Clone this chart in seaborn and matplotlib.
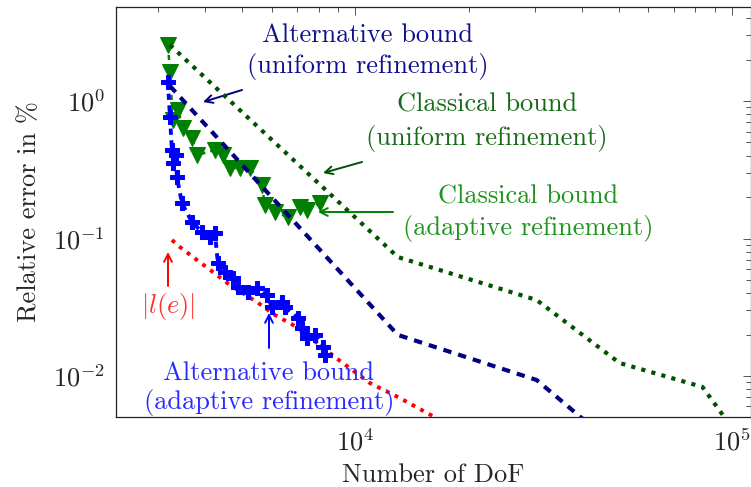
import numpy as np
import pandas as pd
import matplotlib
matplotlib.use("Agg")
import matplotlib.pyplot as plt
import seaborn as sns
from matplotlib.ticker import LogLocator, NullFormatter

# ---------------- data ----------------
dof_uniform = [3221, 12966, 30298, 50300, 83520, 107940]
classical_uniform = [2.555, 0.0733, 0.0357, 0.01243, 0.00832, 0.00315]
alternative_uniform = [1.286, 0.0199, 0.00935, 0.0029]

dof_adaptive_classical = [3182, 3221, 3280, 3382, 3486, 3683, 3798, 4239, 4451, 4646,
                          4938, 5251, 5649, 5754, 6116, 6622, 7124, 7437, 8050]
classical_adaptive = [2.555, 1.625, 0.727, 0.860, 0.636, 0.538, 0.4048, 0.440, 0.4048,
                      0.3257, 0.3257, 0.3257, 0.2449, 0.1752, 0.1559, 0.1433, 0.1695,
                      0.1612, 0.1812]

dof_adaptive_alt = [3182, 3221, 3260, 3280, 3341, 3361, 3465, 3683, 3915, 4112, 4239,
                    4318, 4506, 4732, 4878, 5187, 5480, 5826, 6005, 6383, 6501, 7038,
                    7212, 7437, 7809, 8200, 8301]
alternative_adaptive = [1.375, 0.765, 0.440, 0.354, 0.405, 0.280, 0.181, 0.132, 0.1115,
                        0.1025, 0.1096, 0.0663, 0.0571, 0.0516, 0.0444, 0.0408, 0.0437,
                        0.0388, 0.0318, 0.0345, 0.0318, 0.0264, 0.0223, 0.0189, 0.0199,
                        0.01625, 0.01421]

dof_error = [3260, 3423, 3798, 4188, 4646, 5480, 6116, 6995, 8822, 10927, 13124, 16753]
true_error = [0.0975, 0.0867, 0.0698, 0.0571, 0.0459, 0.0345, 0.0278, 0.0227, 0.01374,
              0.00889, 0.00692, 0.00479]

x_label = "Number of DoF"
y_label = "Relative error in %"

# ---------------- style ----------------
sns.set_style("white")
plt.rcParams.update({
    "font.family": ["cmr10", "DejaVu Serif"],
    "mathtext.fontset": "cm",
    "axes.formatter.use_mathtext": True,
    "axes.unicode_minus": False,
})

FS = 19
W, H = 751, 487
fig = plt.figure(figsize=(W / 100, H / 100), dpi=100)
ax = fig.add_axes([116 / W, 1 - 417 / H, (750.5 - 116) / W, 410 / H])

# adaptive classical bound (green triangles)
sns.lineplot(x=dof_adaptive_classical, y=classical_adaptive, ax=ax, sort=False,
             estimator=None, color="#008000", lw=1.8, marker="v", ms=12,
             mec="#008000", mfc="#008000", zorder=3)
ax.lines[-1].set_dashes((2, 2))

# adaptive alternative bound (blue crosses)
sns.lineplot(x=dof_adaptive_alt, y=alternative_adaptive, ax=ax, sort=False,
             estimator=None, color="#0000ff", lw=2.8, marker="P", ms=10,
             mec="#0000ff", mfc="#0000ff", zorder=4)
ax.lines[-1].set_dashes((1.6, 1.4))

# true error |l(e)|
sns.lineplot(x=dof_error, y=true_error, ax=ax, sort=False, estimator=None,
             color="#ff0000", lw=2.8, zorder=3.5)
ax.lines[-1].set_dashes((1, 1.5))

# uniform classical bound
sns.lineplot(x=dof_uniform, y=classical_uniform, ax=ax, sort=False, estimator=None,
             color="#005200", lw=3.0, zorder=5)
ax.lines[-1].set_dashes((1, 1.5))

# uniform alternative bound
sns.lineplot(x=dof_uniform[:len(alternative_uniform)], y=alternative_uniform, ax=ax,
             sort=False, estimator=None, color="#000080", lw=3.0, zorder=5)
ax.lines[-1].set_dashes((2.0, 1.7))

ax.set_xscale("log")
ax.set_yscale("log")
ax.set_xlim(2316, 112000)
ax.set_ylim(0.005031, 4.83)

ax.xaxis.set_major_locator(LogLocator(base=10))
ax.yaxis.set_major_locator(LogLocator(base=10))
ax.xaxis.set_minor_locator(LogLocator(base=10, subs=np.arange(2, 10)))
ax.yaxis.set_minor_locator(LogLocator(base=10, subs=np.arange(2, 10)))
ax.xaxis.set_minor_formatter(NullFormatter())
ax.yaxis.set_minor_formatter(NullFormatter())

ax.tick_params(which="both", direction="in", top=True, right=True, color="#555555",
               width=0.7, labelsize=FS)
ax.tick_params(which="major", length=6, pad=8)
ax.tick_params(which="minor", length=3.5)
for s in ax.spines.values():
    s.set_color("#222222")
    s.set_linewidth(0.9)

ax.set_xlabel(x_label, fontsize=FS, labelpad=6)
ax.set_ylabel(y_label, fontsize=FS, labelpad=8)

# ---------------- annotations ----------------
def fp(x, y):
    return (x, H - y)

def label(lines, cx, baselines, color):
    for txt, b in zip(lines, baselines):
        fig.text(cx / W, 1 - b / H, txt, color=color, fontsize=FS,
                 ha="center", va="baseline")

def arrow(p0, p1, color):
    ax.annotate("", xy=fp(*p1), xycoords="figure pixels", xytext=fp(*p0),
                textcoords="figure pixels",
                arrowprops=dict(arrowstyle="->,head_length=0.55,head_width=0.28",
                                color=color, lw=1.4, shrinkA=0, shrinkB=0))

label(["Alternative bound", "(uniform refinement)"], 368, [42, 73], "#10108a")
arrow((242, 90), (203, 102), "#000080")

label(["Classical bound", "(uniform refinement)"], 487, [112, 145], "#186a18")
arrow((362, 162), (323, 173), "#005200")

label(["Classical bound", "(adaptive refinement)"], 528, [203, 235], "#1f931f")
arrow((393, 212), (318, 212), "#008000")

fig.text(168 / W, 1 - 313 / H, r"$|l(e)|$", color="#ff3030", fontsize=FS,
         ha="center", va="baseline")
arrow((168, 286), (168, 252), "#ff0000")

label(["Alternative bound", "(adaptive refinement)"], 269, [380, 409], "#2a2aff")
arrow((269, 348), (269, 313), "#0000ff")

fig.savefig("out.png", dpi=100)
